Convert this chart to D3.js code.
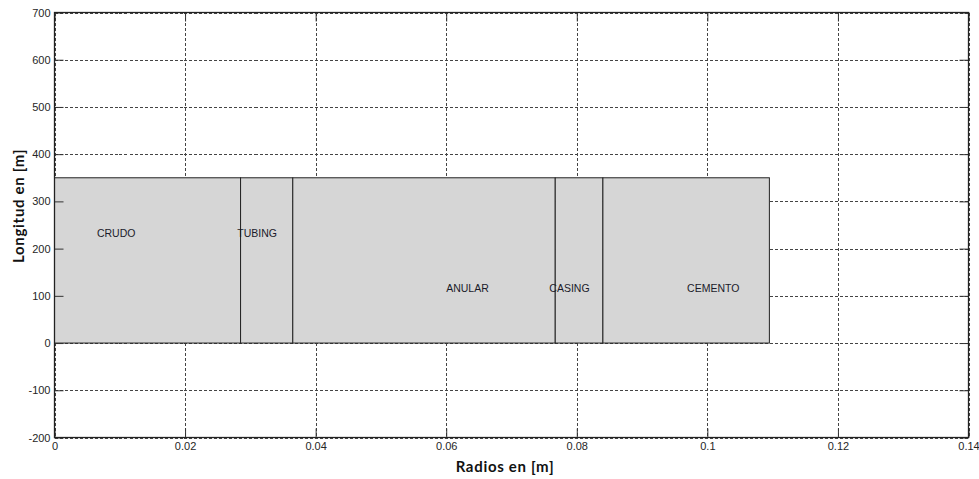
<!DOCTYPE html>
<html>
<head>
<meta charset="utf-8">
<script src="https://cdn.jsdelivr.net/npm/d3@7"></script>
<style>
  html, body { margin: 0; padding: 0; background: #fff; }
  svg { display: block; }
  .tick text { font-family: "Liberation Sans", Arial, sans-serif; font-size: 11px; fill: #262626; }
</style>
</head>
<body>
<svg id="chart" width="979" height="479"></svg>
<script>
// Well cross-section layers: radial extent and depth
const regions = ["CRUDO", "TUBING", "ANULAR", "CASING", "CEMENTO"];
const radiusInner = [0, 0.0285, 0.0365, 0.0767, 0.0840];
const radiusOuter = [0.0285, 0.0365, 0.0767, 0.0840, 0.1095];
const depth = 350;

// Label anchor points (left edge, vertical middle) in data units
const labelX = [0.0065, 0.0280, 0.0600, 0.0758, 0.0969];
const labelY = [233.3, 233.3, 116.7, 116.7, 116.7];

const xTicks = [0, 0.02, 0.04, 0.06, 0.08, 0.1, 0.12, 0.14];
const yTicks = [-200, -100, 0, 100, 200, 300, 400, 500, 600, 700];

const svg = d3.select("#chart");
const plotL = 54.5, plotR = 968.5, plotT = 12.5, plotB = 437.5;

const x = d3.scaleLinear().domain([0, 0.14]).range([plotL, plotR]);
const y = d3.scaleLinear().domain([-200, 700]).range([plotB, plotT]);

svg.append("rect").attr("width", 979).attr("height", 479).attr("fill", "#fff");

// Dotted grid
const grid = svg.append("g").attr("stroke", "#444").attr("stroke-width", 1)
  .attr("stroke-dasharray", "3,2").attr("shape-rendering", "crispEdges");
grid.selectAll("line.gx").data(xTicks).join("line").attr("class", "gx")
  .attr("x1", d => Math.round(x(d)) + 0.5).attr("x2", d => Math.round(x(d)) + 0.5)
  .attr("y1", plotT).attr("y2", plotB);
grid.selectAll("line.gy").data(yTicks).join("line").attr("class", "gy")
  .attr("y1", d => Math.round(y(d)) + 0.5).attr("y2", d => Math.round(y(d)) + 0.5)
  .attr("x1", plotL).attr("x2", plotR);

// Layer rectangles
svg.append("g").selectAll("rect").data(regions).join("rect")
  .attr("x", (d, i) => x(radiusInner[i]))
  .attr("y", y(depth))
  .attr("width", (d, i) => x(radiusOuter[i]) - x(radiusInner[i]))
  .attr("height", y(0) - y(depth))
  .attr("fill", "#d6d6d6")
  .attr("stroke", "#222")
  .attr("stroke-width", 1);

// Layer names
svg.append("g").selectAll("text").data(regions).join("text")
  .attr("x", (d, i) => x(labelX[i]))
  .attr("y", (d, i) => y(labelY[i]))
  .attr("dominant-baseline", "central")
  .attr("font-family", "'Liberation Sans', Arial, sans-serif")
  .attr("font-size", 10.5)
  .attr("fill", "#1a1a2a")
  .text(d => d);

// Axes with inward ticks on all four sides
const tickLen = 9;
const fmtX = d => String(d);
const fmtY = d => String(d);
const axB = svg.append("g").attr("transform", `translate(0,${plotB})`)
  .call(d3.axisBottom(x).tickValues(xTicks).tickFormat(fmtX).tickSizeInner(-tickLen).tickSizeOuter(0).tickPadding(5));
const axT = svg.append("g").attr("transform", `translate(0,${plotT})`)
  .call(d3.axisTop(x).tickValues(xTicks).tickFormat("").tickSizeInner(-tickLen).tickSizeOuter(0));
const axL = svg.append("g").attr("transform", `translate(${plotL},0)`)
  .call(d3.axisLeft(y).tickValues(yTicks).tickFormat(fmtY).tickSizeInner(-tickLen).tickSizeOuter(0).tickPadding(4));
const axR = svg.append("g").attr("transform", `translate(${plotR},0)`)
  .call(d3.axisRight(y).tickValues(yTicks).tickFormat("").tickSizeInner(-tickLen).tickSizeOuter(0));
[axB, axT, axL, axR].forEach(a => {
  a.select(".domain").remove();
  a.selectAll(".tick line").attr("stroke", "#333");
});

// Plot box
svg.append("rect").attr("x", plotL).attr("y", plotT)
  .attr("width", plotR - plotL).attr("height", plotB - plotT)
  .attr("fill", "none").attr("stroke", "#222").attr("stroke-width", 1.3);

// Axis titles
svg.append("text").attr("x", 505).attr("y", 472)
  .attr("text-anchor", "middle")
  .attr("font-family", "Lato, 'Open Sans', sans-serif").attr("font-weight", "bold")
  .attr("font-size", 15).attr("letter-spacing", 0.7).attr("fill", "#111")
  .text("Radios en [m]");
svg.append("text").attr("transform", "translate(24,206) rotate(-90)")
  .attr("text-anchor", "middle")
  .attr("font-family", "Lato, 'Open Sans', sans-serif").attr("font-weight", "bold")
  .attr("font-size", 15).attr("letter-spacing", 0.7).attr("fill", "#111")
  .text("Longitud en [m]");
</script>
</body>
</html>
